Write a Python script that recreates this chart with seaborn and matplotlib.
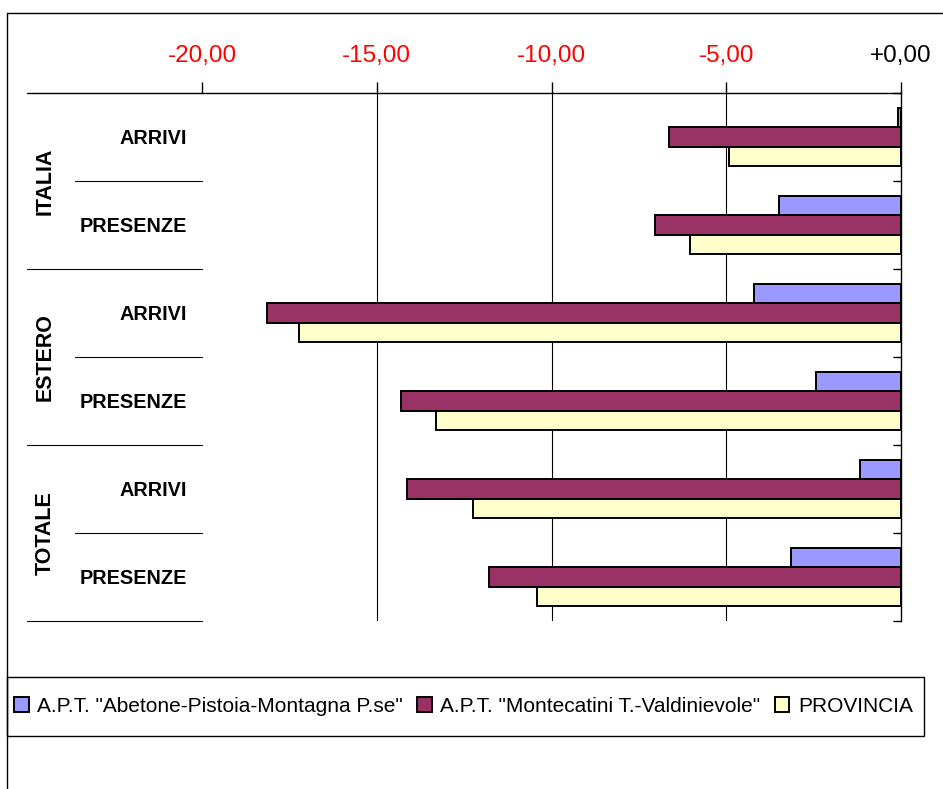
import numpy as np
import pandas as pd
import matplotlib.pyplot as plt
import seaborn as sns
from matplotlib.lines import Line2D
from matplotlib.patches import Rectangle

sns.set_style('white')
plt.rcParams['font.family'] = ['Liberation Sans', 'DejaVu Sans']
plt.rcParams['text.color'] = 'black'
plt.rcParams['xtick.color'] = 'black'
plt.rcParams['ytick.color'] = 'black'

# -----------------------------------------------------------
groups   = ['ITALIA', 'ESTERO', 'TOTALE']
measures = ['ARRIVI', 'PRESENZE']
series   = ['A.P.T. "Abetone-Pistoia-Montagna P.se"',
            'A.P.T. "Montecatini T.-Valdinievole"',
            'PROVINCIA']
colors   = ['#9999FF', '#993366', '#FFFFCC']

# one value per row: ITALIA arr/pres, ESTERO arr/pres, TOTALE arr/pres
abetone     = [-0.09, -3.48, -4.22, -2.44, -1.18, -3.14]
montecatini = [-6.64, -7.04, -18.15, -14.31, -14.13, -11.80]
provincia   = [-4.91, -6.05, -17.22, -13.31, -12.25, -10.42]

xticks      = [-20, -15, -10, -5, 0]
xticklabels = ['-20,00', '-15,00', '-10,00', '-5,00', '+0,00']
xtickcolors = ['red', 'red', 'red', 'red', 'black']
# -----------------------------------------------------------

rows = [g + ' ' + m for g in groups for m in measures]
df = pd.DataFrame({'row': rows * 3,
                   'series': np.repeat(series, len(rows)),
                   'value': abetone + montecatini + provincia})

W, H = 943, 789
fig = plt.figure(figsize=(W / 100, H / 100), dpi=100)
ax = fig.add_axes([202 / W, 1 - 621 / H, 699 / W, 528 / H])

sns.barplot(data=df, y='row', x='value', hue='series', hue_order=series,
            palette=colors, orient='h', width=0.66, saturation=1,
            edgecolor='black', linewidth=1.4, ax=ax)

handles, labels = ax.get_legend_handles_labels()
ax.get_legend().remove()

ax.set_xlim(-20, 0)
ax.set_ylim(5.5, -0.5)
ax.set(xlabel=None, ylabel=None)

# value axis on top
ax.xaxis.tick_top()
ax.set_xticks(xticks)
ax.set_xticklabels(xticklabels, fontsize=17.5)
for lbl, c in zip(ax.get_xticklabels(), xtickcolors):
    lbl.set_color(c)
ax.tick_params(axis='x', direction='out', length=8, width=1, pad=11)

for v in xticks[1:-1]:
    ax.axvline(v, color='black', lw=0.8, zorder=0)

# category labels left, boundary ticks on the right
ax.set_yticks(range(len(rows)))
ax.set_yticklabels(measures * len(groups), fontsize=14.3, fontweight='bold')
ax.set_yticks(np.arange(-0.5, len(rows), 1), minor=True)
ax.tick_params(axis='y', which='major', left=False, right=False, labelleft=True, pad=7.5)
ax.tick_params(axis='y', which='minor', left=False, right=True, direction='in',
               length=6, width=1)

for s in ['left', 'bottom']:
    ax.spines[s].set_visible(False)
for s in ['top', 'right']:
    ax.spines[s].set_color('black')
    ax.spines[s].set_linewidth(1)

# separator lines in the label area
trans = ax.get_yaxis_transform()
x_long  = (27 - 202) / 699
x_short = (75 - 202) / 699
ax.plot([x_long, 0], [-0.5, -0.5], transform=trans, clip_on=False, color='black', lw=1)
for i, b in enumerate(np.arange(0.5, len(rows), 1)):
    x0 = x_long if i % 2 else x_short
    ax.plot([x0, 0], [b, b], transform=trans, clip_on=False, color='black', lw=0.8)

for k, g in enumerate(groups):
    ax.text((45 - 202) / 699, 2 * k + 0.5, g, transform=trans, rotation=90,
            ha='center', va='center', fontsize=15.5, fontweight='bold')

# chart border and legend box
fig.add_artist(Line2D([7 / W, 1], [1 - 13 / H] * 2, transform=fig.transFigure, color='black', lw=1))
fig.add_artist(Line2D([7 / W] * 2, [0, 1 - 13 / H], transform=fig.transFigure, color='black', lw=1))
fig.add_artist(Rectangle((7 / W, 1 - 736 / H), (924 - 7) / W, 59 / H, fill=False,
                         ec='black', lw=1, transform=fig.transFigure))

fig.legend(handles, labels, loc='center left', bbox_to_anchor=(14 / W, 1 - 706 / H),
           ncol=3, frameon=False, fontsize=15, handlelength=0.7, handleheight=0.7,
           handletextpad=0.4, columnspacing=0.7, borderaxespad=0, borderpad=0)

fig.savefig('out.png', dpi=100)
